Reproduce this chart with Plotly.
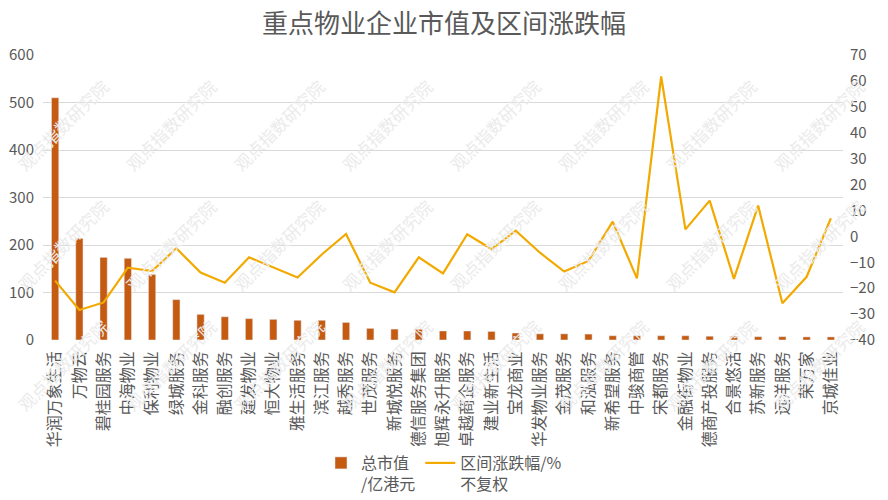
import plotly.graph_objects as go

categories = ["华润万象生活", "万物云", "碧桂园服务", "中海物业", "保利物业", "绿城服务", "金科服务",
              "融创服务", "建发物业", "恒大物业", "雅生活服务", "滨江服务", "越秀服务", "世茂服务",
              "新城悦服务", "德信服务集团", "旭辉永升服务", "卓越商企服务", "建业新生活", "宝龙商业",
              "华发物业服务", "金茂服务", "和泓服务", "新希望服务", "中骏商管", "宋都服务", "金融街物业",
              "德商产投服务", "合景悠活", "苏新服务", "远洋服务", "荣万家", "京城佳业"]

market_cap = [510, 214, 174, 172, 138, 85, 54, 49, 45, 43.5, 41.5, 41.5, 37, 24.5, 23,
              22.5, 19, 19, 18, 14.7, 13, 13, 12.5, 9, 9, 9, 9, 8, 8, 7, 7, 6.5, 6.5]

change_pct = [-17.1, -28.4, -25.5, -12.1, -13.4, -4.6, -14.0, -17.9, -8.1, -11.9, -15.9, -7.0,
              0.9, -17.9, -21.6, -8.1, -14.3, 0.8, -4.9, 2.2, -6.3, -13.6, -9.5, 5.7,
              -16.2, 61.7, 2.7, 13.8, -16.4, 11.9, -25.8, -15.6, 7.0]

left_ticks = [0, 100, 200, 300, 400, 500, 600]
right_ticks = [-40, -30, -20, -10, 0, 10, 20, 30, 40, 50, 60, 70]

title_text = "重点物业企业市值及区间涨跌幅"
watermark = "观点指数研究院"

FONT = "Noto Sans CJK SC, Noto Sans, sans-serif"
GREY = "#595959"

fig = go.Figure()
fig.add_trace(go.Bar(
    x=categories, y=market_cap, name="总市值<br>/亿港元",
    marker=dict(color="#C55A11"), width=0.3, yaxis="y"))
fig.add_trace(go.Scatter(
    x=categories, y=change_pct, name="区间涨跌幅/%<br>不复权", mode="lines",
    line=dict(color="#F2A900", width=2.2), yaxis="y2"))

# faint diagonal watermarks (positions given in pixels of the 888x500 canvas)
annotations = []
for yy in [125, 245, 365]:
    for xx in [62, 170, 278, 386, 494, 602, 710, 818]:
        annotations.append(dict(
            text=watermark, x=(xx - 43) / 800, y=(340 - yy) / 285,
            xref="paper", yref="paper", xanchor="center", yanchor="middle",
            showarrow=False, textangle=-45,
            font=dict(family=FONT, size=17, color="#EBEBEB"),
        ))

fig.update_layout(
    width=888, height=500,
    margin=dict(l=43, r=45, t=55, b=160, autoexpand=False),
    paper_bgcolor="white", plot_bgcolor="white",
    title=dict(text=title_text, x=0.5, xanchor="center", y=1 - 24 / 500, yanchor="middle",
               xref="container", yref="container",
               font=dict(family=FONT, size=26, color=GREY)),
    font=dict(family=FONT, color=GREY),
    xaxis=dict(tickangle=-90, tickfont=dict(size=16, color=GREY, family=FONT),
               showgrid=False, showline=False, ticks="", zeroline=False, automargin=False,
               ticklabelstandoff=7),
    yaxis=dict(range=[0, 600], tickvals=left_ticks, showgrid=True, gridcolor="#D9D9D9",
               gridwidth=1, zeroline=False, showline=False, ticks="", automargin=False,
               tickfont=dict(size=15, color=GREY), ticklabelstandoff=8),
    yaxis2=dict(range=[-40, 70], tickvals=right_ticks, overlaying="y", side="right",
                showgrid=False, zeroline=False, showline=False, ticks="", automargin=False,
                tickfont=dict(size=15, color=GREY), ticklabelstandoff=6),
    bargap=0.7,
    showlegend=True,
    legend=dict(orientation="h", x=0.5, xanchor="center", xref="container",
                y=54 / 500, yanchor="top", yref="container",
                font=dict(size=16, color=GREY, family=FONT), valign="top",
                itemwidth=30, traceorder="normal", tracegroupgap=0),
    annotations=annotations,
)

fig.write_html("out.html", config={"displayModeBar": False},
               post_script="document.body.style.margin='0';document.body.style.overflow='hidden';")
